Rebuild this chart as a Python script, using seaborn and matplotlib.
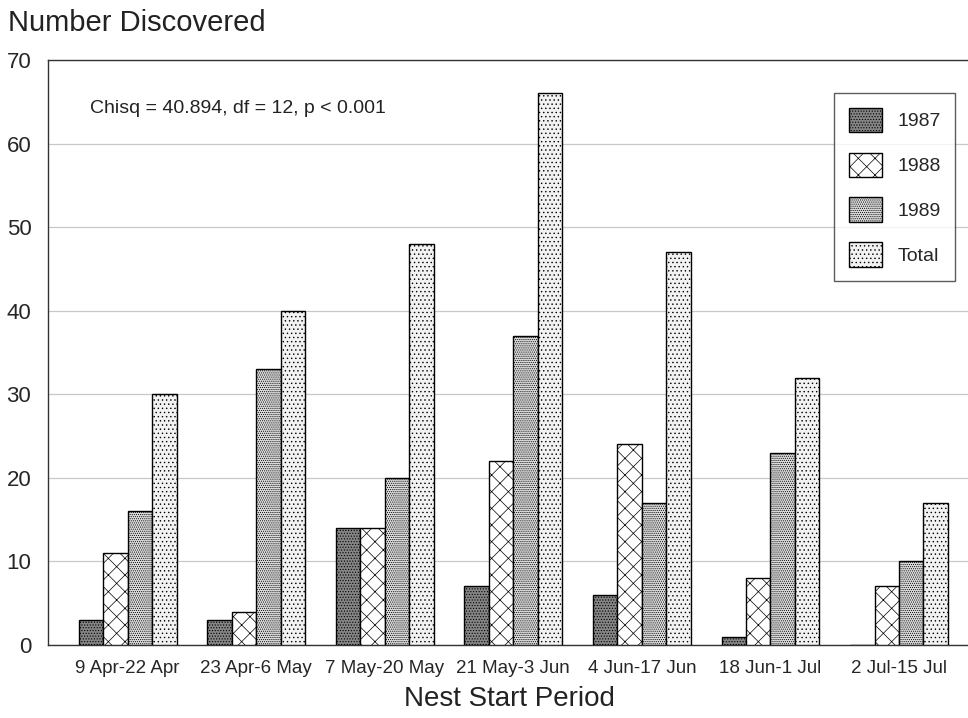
import numpy as np
import pandas as pd
import matplotlib
matplotlib.use("Agg")
import matplotlib.pyplot as plt
from matplotlib.patches import Patch
import seaborn as sns

periods = ["9 Apr-22 Apr", "23 Apr-6 May", "7 May-20 May", "21 May-3 Jun",
           "4 Jun-17 Jun", "18 Jun-1 Jul", "2 Jul-15 Jul"]
years = ["1987", "1988", "1989", "Total"]
n1987 = [3, 3, 14, 7, 6, 1, 0]
n1988 = [11, 4, 14, 22, 24, 8, 7]
n1989 = [16, 33, 20, 37, 17, 23, 10]
total = [30, 40, 48, 66, 47, 32, 17]

df = pd.DataFrame({
    "period": periods * 4,
    "year": np.repeat(years, len(periods)),
    "count": n1987 + n1988 + n1989 + total,
})

sns.set_style("white")
plt.rcParams["font.family"] = ["Liberation Sans", "DejaVu Sans"]
plt.rcParams["hatch.linewidth"] = 0.5

faces = ["#858585", "#ffffff", "#dcdcdc", "#f2f2f2"]
hatches = ["......", "xx", "........", "...."]

fig = plt.figure(figsize=(9.68, 7.18), dpi=100)
ax = fig.add_axes([0.0496, 0.1017, 0.9534, 0.8148])

sns.barplot(data=df, x="period", y="count", hue="year", hue_order=years,
            palette=faces, edgecolor="black", linewidth=1.0, width=0.76,
            legend=False, ax=ax, zorder=3)

for cont, h in zip(ax.containers, hatches):
    for bar in cont:
        bar.set_hatch(h)

ax.set_xlim(-0.62, 6.56)
ax.set_ylim(0, 70)
ax.set_yticks(range(0, 71, 10))
ax.set_yticks(range(5, 70, 10), minor=True)
ax.yaxis.grid(True, color="#c8c8c8", linewidth=0.9, zorder=0)
ax.tick_params(axis="y", which="both", direction="in", length=5, labelsize=16, pad=12)
ax.tick_params(axis="x", length=0, labelsize=13.5, pad=11)
for s in ["left", "bottom", "top"]:
    ax.spines[s].set_color("#333333")
    ax.spines[s].set_linewidth(1.0)
ax.spines["right"].set_visible(False)

ax.set_xlabel("Nest Start Period", fontsize=20, color="#222222", labelpad=6)
ax.set_ylabel("")
fig.text(0.008, 0.968, "Number Discovered", fontsize=21, color="#222222",
         ha="left", va="center")
ax.text(0.046, 0.917, "Chisq = 40.894, df = 12, p < 0.001", transform=ax.transAxes,
        fontsize=14, color="#222222", va="center")

handles = [Patch(facecolor=f, edgecolor="black", hatch=h, label=y)
           for f, h, y in zip(faces, hatches, years)]
leg = ax.legend(handles=handles, loc="upper right", bbox_to_anchor=(0.983, 0.943),
                frameon=True, fancybox=False, edgecolor="#333333", fontsize=14,
                handlelength=1.7, handleheight=1.55, labelspacing=1.05,
                handletextpad=0.8, borderpad=0.75, borderaxespad=0)
leg.get_frame().set_linewidth(1.0)

fig.savefig("out.png", dpi=100)
